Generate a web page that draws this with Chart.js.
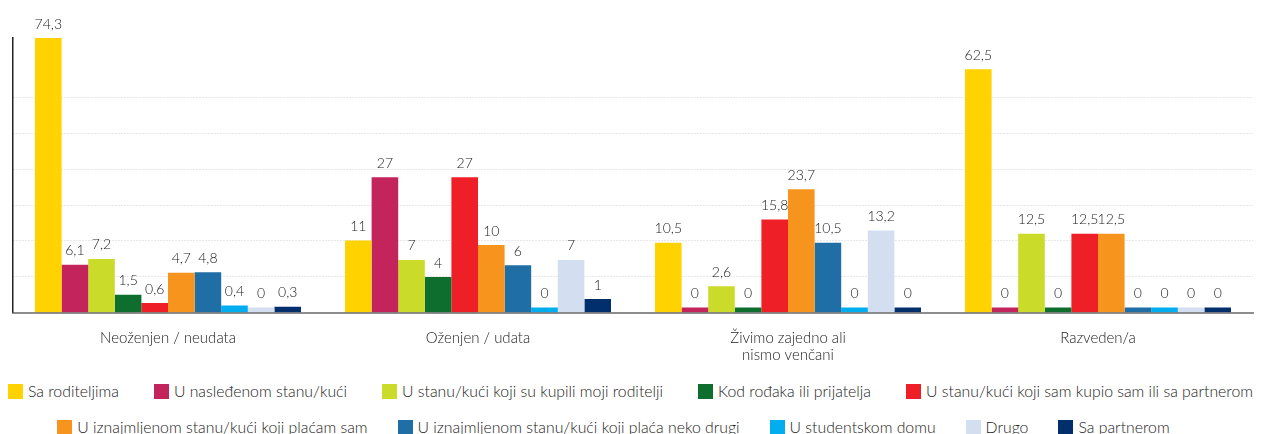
<!DOCTYPE html>
<html lang="sr">
<head>
<meta charset="utf-8">
<title>Gde živite - prema bračnom statusu</title>
<script src="https://cdn.jsdelivr.net/npm/chart.js@4.4.1/dist/chart.umd.min.js"></script>
<style>
  html, body { margin: 0; padding: 0; background: #fff; }
  body { width: 1261px; height: 434px; overflow: hidden; font-family: Lato, "Noto Sans", sans-serif; }
  #chartBox { position: relative; width: 1261px; height: 381px; }
  #legend { color: #222; font-size: 15.8px; font-weight: 300; }
  .legend-row { display: flex; justify-content: center; gap: 30px; height: 22px; line-height: 22px; white-space: nowrap; }
  .legend-row:first-child { margin-top: -1px; gap: 35px; }
  .legend-row + .legend-row { margin-top: 14px; margin-right: 34px; }
  .legend-item { display: flex; align-items: center; }
  .legend-box { width: 15px; height: 15px; margin-right: 5px; flex: none; }
</style>
</head>
<body>
<div id="chartBox"><canvas id="housingChart"></canvas></div>
<div id="legend"></div>
<script>
// kategorije (bračni status)
const categories = [
    'Neoženjen / neudata',
    'Oženjen / udata',
    ['Živimo zajedno ali', 'nismo venčani'],
    'Razveden/a'
];

// serije (gde ispitanik živi)
const seriesNames = [
    'Sa roditeljima',
    'U nasleđenom stanu/kući',
    'U stanu/kući koji su kupili moji roditelji',
    'Kod rođaka ili prijatelja',
    'U stanu/kući koji sam kupio sam ili sa partnerom',
    'U iznajmljenom stanu/kući koji plaćam sam',
    'U iznajmljenom stanu/kući koji plaća neko drugi',
    'U studentskom domu',
    'Drugo',
    'Sa partnerom'
];
const seriesColors = ['#FFD200', '#C2245B', '#CADB2A', '#0E6E2D', '#EE1F26', '#F7941D', '#1F6EA6', '#00AEEF', '#D3DEF0', '#002F6C'];

// procenti po kategoriji
const saRoditeljima = [74.3, 11, 10.5, 62.5];
const nasledjeniStan = [6.1, 27, 0, 0];
const kupiliRoditelji = [7.2, 7, 2.6, 12.5];
const kodRodjaka = [1.5, 4, 0, 0];
const kupioSam = [0.6, 27, 15.8, 12.5];
const iznajmljenPlacamSam = [4.7, 10, 23.7, 12.5];
const iznajmljenPlacaDrugi = [4.8, 6, 10.5, 0];
const studentskiDom = [0.4, 0, 0, 0];
const drugo = [0, 7, 13.2, 0];
const saPartnerom = [0.3, 1, 0, 0];

const seriesValues = [saRoditeljima, nasledjeniStan, kupiliRoditelji, kodRodjaka, kupioSam,
    iznajmljenPlacamSam, iznajmljenPlacaDrugi, studentskiDom, drugo, saPartnerom];

// skala je sabijena (stepen < 1) da bi se male vrednosti videle pored 74,3
const EXPONENT = 0.7;
const GRID_STEP = 0.1305; // razmak pomoćnih linija, kao deo visine ose

class PowerScale extends Chart.LinearScale {
    getPixelForValue(value) {
        const t = Math.pow(Math.max(value, 0), EXPONENT) / Math.pow(this.max, EXPONENT);
        return this.getPixelForDecimal(t);
    }
    getValueForPixel(pixel) {
        return this.max * Math.pow(this.getDecimalForPixel(pixel), 1 / EXPONENT);
    }
}
PowerScale.id = 'power';
PowerScale.defaults = Chart.LinearScale.defaults;
Chart.register(PowerScale);

// vrednosti iznad stubića, sa decimalnim zarezom
const valueLabels = {
    id: 'valueLabels',
    afterDatasetsDraw(chart) {
        const ctx = chart.ctx;
        ctx.save();
        ctx.font = '300 14px Lato, "Noto Sans", sans-serif';
        ctx.fillStyle = '#222';
        ctx.textAlign = 'center';
        ctx.textBaseline = 'middle';
        chart.data.datasets.forEach((ds, i) => {
            chart.getDatasetMeta(i).data.forEach((bar, j) => {
                ctx.fillText(String(ds.data[j]).replace('.', ','), bar.x, bar.y - 14);
            });
        });
        ctx.restore();
    }
};

const maxValue = Math.max(...seriesValues.flat());

Chart.defaults.font.family = 'Lato, "Noto Sans", sans-serif';
Chart.defaults.color = '#222';

const housingChart = new Chart(document.getElementById('housingChart'), {
    type: 'bar',
    data: {
        labels: categories,
        datasets: seriesNames.map((name, i) => ({
            label: name,
            data: seriesValues[i],
            backgroundColor: seriesColors[i],
            barPercentage: 1,
            categoryPercentage: 0.858,
            minBarLength: 5
        }))
    },
    options: {
        responsive: true,
        maintainAspectRatio: false,
        animation: false,
        layout: { padding: { top: 38, left: 13, right: 8, bottom: 0 } },
        plugins: {
            legend: { display: false },
            tooltip: { enabled: false }
        },
        scales: {
            x: {
                grid: { display: false, drawTicks: false },
                border: { display: true, color: 'rgba(80,80,80,0.65)', width: 2, z: 1 },
                ticks: { padding: 17, font: { size: 15, weight: 300, lineHeight: 1.15 }, color: '#222' }
            },
            y: {
                type: 'power',
                min: 0,
                max: maxValue,
                grid: { color: '#cfcfcf', lineWidth: 1, drawTicks: false },
                border: { display: true, color: '#222', width: 1.5, dash: [1, 2] },
                ticks: { display: false },
                afterBuildTicks: scale => {
                    scale.ticks = [1, 2, 3, 4, 5, 6].map(k => ({
                        value: scale.max * Math.pow(k * GRID_STEP, 1 / EXPONENT)
                    }));
                }
            }
        }
    },
    plugins: [valueLabels]
});

// legenda u dva reda
const legend = document.getElementById('legend');
[seriesNames.slice(0, 5), seriesNames.slice(5)].forEach((rowNames, r) => {
    const row = document.createElement('div');
    row.className = 'legend-row';
    rowNames.forEach((name, i) => {
        const idx = r * 5 + i;
        const item = document.createElement('div');
        item.className = 'legend-item';
        const box = document.createElement('span');
        box.className = 'legend-box';
        box.style.background = seriesColors[idx];
        const text = document.createElement('span');
        text.textContent = name;
        item.appendChild(box);
        item.appendChild(text);
        row.appendChild(item);
    });
    legend.appendChild(row);
});
</script>
</body>
</html>
